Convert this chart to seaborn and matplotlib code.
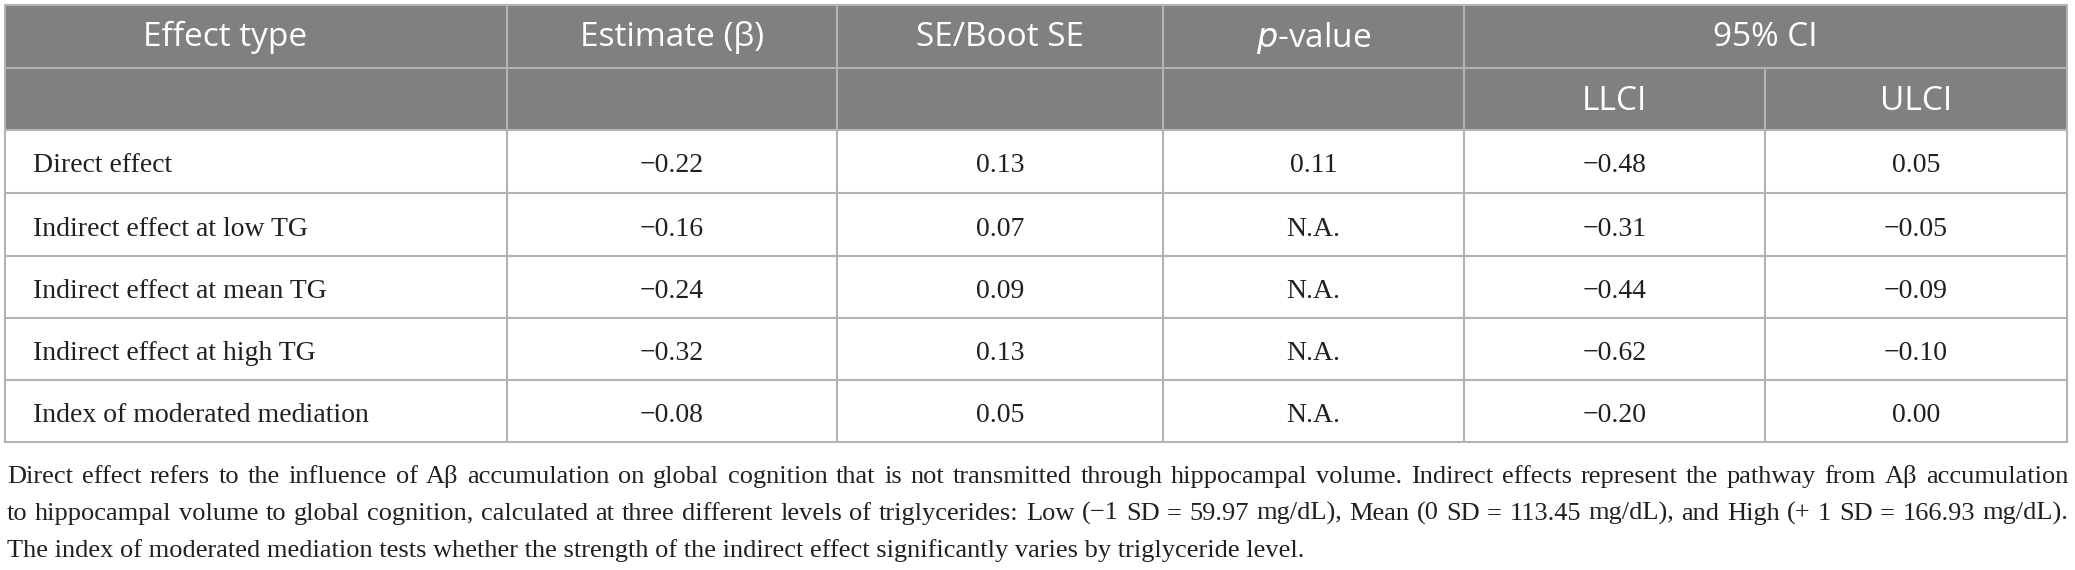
import matplotlib
matplotlib.use('Agg')
import matplotlib.pyplot as plt
import seaborn as sns
from matplotlib.patches import Rectangle

# table content
headers = ['Effect type', 'Estimate (β)', 'SE/Boot SE', '$p$-value', '95% CI']
sub_headers = ['', '', '', '', 'LLCI', 'ULCI']
effect_types = ['Direct effect',
                'Indirect effect at low TG',
                'Indirect effect at mean TG',
                'Indirect effect at high TG',
                'Index of moderated mediation']
estimates = ['−0.22', '−0.16', '−0.24', '−0.32', '−0.08']
se_values = ['0.13', '0.07', '0.09', '0.13', '0.05']
p_values = ['0.11', 'N.A.', 'N.A.', 'N.A.', 'N.A.']
llci = ['−0.48', '−0.31', '−0.44', '−0.62', '−0.20']
ulci = ['0.05', '−0.05', '−0.09', '−0.10', '0.00']

footnote = ['Direct effect refers to the influence of Aβ accumulation on global cognition that is not transmitted '
            'through hippocampal volume. Indirect effects represent the pathway from Aβ accumulation',
            'to hippocampal volume to global cognition, calculated at three different levels of triglycerides: '
            'Low (−1 SD = 59.97 mg/dL), Mean (0 SD = 113.45 mg/dL), and High (+ 1 SD = 166.93 mg/dL).',
            'The index of moderated mediation tests whether the strength of the indirect effect significantly '
            'varies by triglyceride level.']

# layout (pixels)
col_x = [5, 507, 837, 1163, 1464, 1765, 2067]
row_y = [5, 68, 130, 193, 256, 318, 380, 442]
foot_y = [483, 520, 557]

sns.set_theme(style='white')
plt.rcParams['font.family'] = ['DejaVu Sans']

fig = plt.figure(figsize=(20.75, 5.7), dpi=100)
ax = fig.add_axes([0, 0, 1, 1])
ax.set_xlim(0, 2075)
ax.set_ylim(570, 0)
ax.axis('off')

head_col = '#808080'
line_col = '#b3b3b3'
lw = 1.5

ax.add_patch(Rectangle((col_x[0], row_y[0]), col_x[-1] - col_x[0], row_y[2] - row_y[0],
                       facecolor=head_col, edgecolor='none', zorder=1))

# horizontal lines
for y in row_y:
    ax.plot([col_x[0], col_x[-1]], [y, y], color=line_col, lw=lw, zorder=2, solid_capstyle='projecting')
# vertical lines
for i, x in enumerate(col_x):
    if i == 5:
        ax.plot([x, x], [row_y[1], row_y[-1]], color=line_col, lw=lw, zorder=2)
    else:
        ax.plot([x, x], [row_y[0], row_y[-1]], color=line_col, lw=lw, zorder=2)

head_font = dict(family='Open Sans', fontsize=24, color='white')
body_font = dict(family='Liberation Serif', fontsize=20, color='#231f20')

# header row 1
head_centers = [225,
                (col_x[1] + col_x[2]) / 2,
                (col_x[2] + col_x[3]) / 2,
                (col_x[3] + col_x[4]) / 2,
                (col_x[4] + col_x[6]) / 2]
for h, cx in zip(headers, head_centers):
    ax.text(cx, (row_y[0] + row_y[1]) / 2 + 1, h, ha='center', va='center', zorder=3, **head_font)
# header row 2
for i, h in enumerate(sub_headers):
    if h:
        ax.text((col_x[i] + col_x[i + 1]) / 2, (row_y[1] + row_y[2]) / 2 + 2, h,
                ha='center', va='center', zorder=3, **head_font)

# body
columns = [estimates, se_values, p_values, llci, ulci]
for r, name in enumerate(effect_types):
    base = (row_y[r + 2] + row_y[r + 3]) / 2 + 11
    ax.text(col_x[0] + 28, base, name, ha='left', va='baseline', zorder=3, **body_font)
    for c, vals in enumerate(columns):
        ax.text((col_x[c + 1] + col_x[c + 2]) / 2, base, vals[r], ha='center', va='baseline',
                zorder=3, **body_font)

# footnote, first two lines justified
foot_font = dict(family='Liberation Serif', fontsize=19, color='#231f20')
renderer = fig.canvas.get_renderer()
left, right = 7, 2068
for k, line in enumerate(footnote):
    if k == 2:
        ax.text(left, foot_y[k], line, ha='left', va='baseline', **foot_font)
        continue
    words = line.split(' ')
    texts = [ax.text(0, foot_y[k], w, ha='left', va='baseline', **foot_font) for w in words]
    widths = [t.get_window_extent(renderer).width for t in texts]
    gap = (right - left - sum(widths)) / (len(words) - 1)
    x = left
    for t, w in zip(texts, widths):
        t.set_x(x)
        x += w + gap

fig.savefig('out.png', dpi=100, facecolor='white')
